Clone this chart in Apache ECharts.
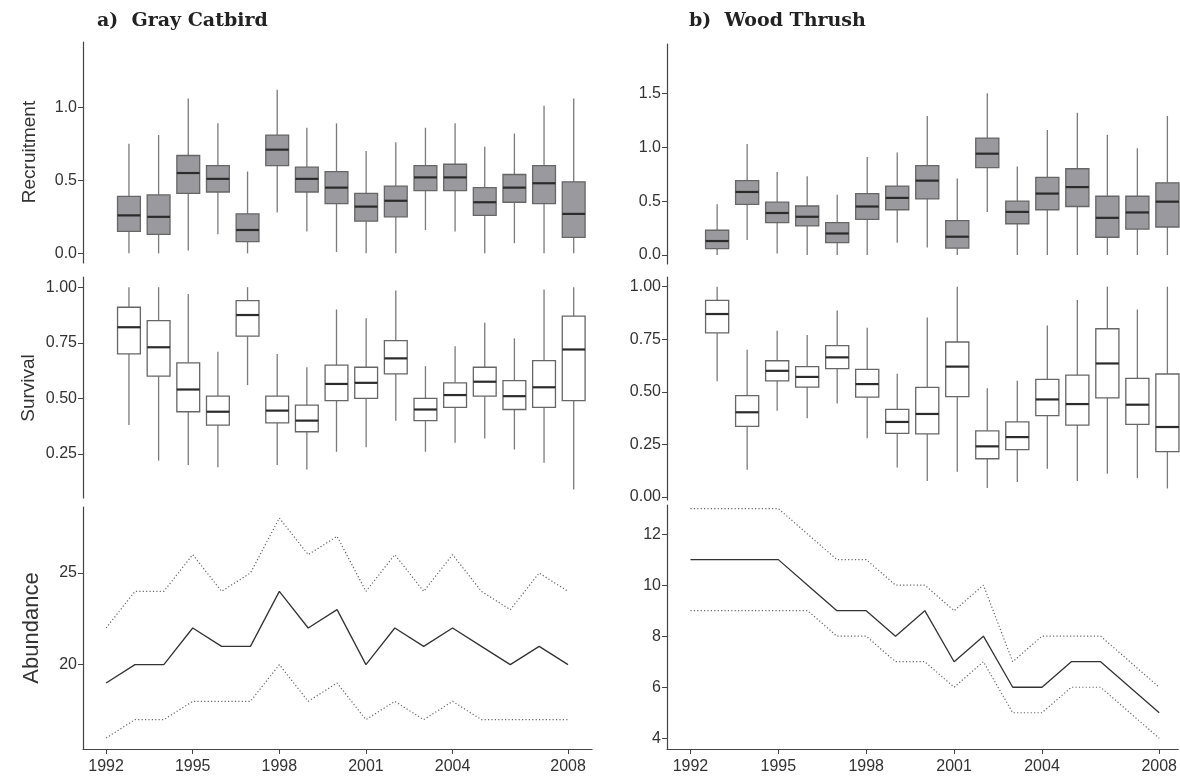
<!DOCTYPE html>
<html>
<head>
<meta charset="utf-8">
<title>Gray Catbird / Wood Thrush</title>
<style>
  body { margin: 0; background: #fff; }
  #main { width: 1180px; height: 776px; }
</style>
</head>
<body>
<div id="main"></div>
<script src="https://cdn.jsdelivr.net/npm/echarts@6/dist/echarts.min.js"></script>
<script>
// years
var boxYears = [1993, 1994, 1995, 1996, 1997, 1998, 1999, 2000, 2001, 2002, 2003, 2004, 2005, 2006, 2007, 2008];
var abYears = [1992, 1993, 1994, 1995, 1996, 1997, 1998, 1999, 2000, 2001, 2002, 2003, 2004, 2005, 2006, 2007, 2008];
var yearTicks = [1992, 1995, 1998, 2001, 2004, 2008];

// box stats per year: [min, Q1, median, Q3, max]
var gcRecruit = [
  [0.00, 0.15, 0.26, 0.39, 0.75], [0.00, 0.13, 0.25, 0.40, 0.81], [0.02, 0.41, 0.55, 0.67, 1.06],
  [0.13, 0.42, 0.51, 0.60, 0.89], [0.00, 0.08, 0.16, 0.27, 0.56], [0.28, 0.60, 0.71, 0.81, 1.12],
  [0.15, 0.42, 0.51, 0.59, 0.86], [0.01, 0.34, 0.45, 0.56, 0.89], [0.00, 0.22, 0.32, 0.41, 0.70],
  [0.00, 0.25, 0.36, 0.46, 0.76], [0.16, 0.43, 0.52, 0.60, 0.86], [0.15, 0.43, 0.52, 0.61, 0.89],
  [0.00, 0.26, 0.35, 0.45, 0.73], [0.07, 0.35, 0.45, 0.54, 0.82], [0.00, 0.34, 0.48, 0.60, 1.01],
  [0.00, 0.11, 0.27, 0.49, 1.06]
];
var gcSurvival = [
  [0.38, 0.70, 0.82, 0.91, 1.00], [0.22, 0.60, 0.73, 0.85, 1.00], [0.20, 0.44, 0.54, 0.66, 0.97],
  [0.19, 0.38, 0.44, 0.51, 0.71], [0.56, 0.78, 0.875, 0.94, 1.00], [0.20, 0.39, 0.445, 0.51, 0.70],
  [0.18, 0.35, 0.40, 0.47, 0.64], [0.26, 0.49, 0.565, 0.65, 0.90], [0.28, 0.50, 0.57, 0.64, 0.86],
  [0.40, 0.61, 0.68, 0.76, 0.985], [0.26, 0.40, 0.45, 0.50, 0.645], [0.30, 0.46, 0.515, 0.57, 0.735],
  [0.32, 0.51, 0.575, 0.64, 0.84], [0.27, 0.45, 0.51, 0.58, 0.77], [0.21, 0.46, 0.55, 0.67, 0.99],
  [0.09, 0.49, 0.72, 0.87, 1.00]
];
var wtRecruit = [
  [0.00, 0.06, 0.13, 0.23, 0.47], [0.14, 0.47, 0.585, 0.69, 1.03], [0.015, 0.30, 0.39, 0.49, 0.77],
  [0.00, 0.27, 0.355, 0.455, 0.73], [0.00, 0.115, 0.20, 0.30, 0.56], [0.00, 0.33, 0.45, 0.57, 0.91],
  [0.115, 0.42, 0.53, 0.64, 0.95], [0.07, 0.52, 0.69, 0.83, 1.29], [0.00, 0.065, 0.17, 0.32, 0.71],
  [0.40, 0.81, 0.94, 1.085, 1.50], [0.00, 0.29, 0.40, 0.50, 0.82], [0.00, 0.42, 0.57, 0.72, 1.16],
  [0.00, 0.45, 0.63, 0.80, 1.32], [0.00, 0.165, 0.345, 0.545, 1.115], [0.00, 0.24, 0.395, 0.545, 0.99],
  [0.00, 0.26, 0.495, 0.67, 1.29]
];
var wtSurvival = [
  [0.55, 0.78, 0.87, 0.935, 1.00], [0.13, 0.336, 0.403, 0.482, 0.70], [0.41, 0.552, 0.60, 0.648, 0.79],
  [0.375, 0.523, 0.571, 0.62, 0.77], [0.445, 0.61, 0.664, 0.72, 0.887], [0.28, 0.475, 0.537, 0.607, 0.805],
  [0.14, 0.303, 0.357, 0.417, 0.586], [0.076, 0.30, 0.395, 0.521, 0.853], [0.12, 0.477, 0.62, 0.737, 1.00],
  [0.043, 0.182, 0.241, 0.315, 0.517], [0.071, 0.225, 0.285, 0.357, 0.553], [0.135, 0.387, 0.464, 0.559, 0.816],
  [0.076, 0.342, 0.442, 0.58, 0.937], [0.111, 0.471, 0.635, 0.80, 1.00], [0.09, 0.345, 0.439, 0.564, 0.891],
  [0.041, 0.216, 0.333, 0.585, 1.00]
];

// abundance: estimate and dotted bounds
var gcAbund = [19, 20, 20, 22, 21, 21, 24, 22, 23, 20, 22, 21, 22, 21, 20, 21, 20];
var gcUpper = [22, 24, 24, 26, 24, 25, 28, 26, 27, 24, 26, 24, 26, 24, 23, 25, 24];
var gcLower = [16, 17, 17, 18, 18, 18, 20, 18, 19, 17, 18, 17, 18, 17, 17, 17, 17];
var wtAbund = [11, 11, 11, 11, 10, 9, 9, 8, 9, 7, 8, 6, 6, 7, 7, 6, 5];
var wtUpper = [13, 13, 13, 13, 12, 11, 11, 10, 10, 9, 10, 7, 8, 8, 8, 7, 6];
var wtLower = [9, 9, 9, 9, 9, 8, 8, 7, 7, 6, 7, 5, 5, 6, 6, 5, 4];

var FONT = '"Liberation Sans", Arial, sans-serif';

function boxData(stats) {
  return stats.map(function (s, i) { return [boxYears[i]].concat(s); });
}
function lineData(vals) {
  return vals.map(function (v, i) { return [abYears[i], v]; });
}

function boxRenderer(fill) {
  return function (params, api) {
    var x = api.value(0);
    var lo = api.coord([x, api.value(1)]);
    var q1 = api.coord([x, api.value(2)]);
    var md = api.coord([x, api.value(3)]);
    var q3 = api.coord([x, api.value(4)]);
    var hi = api.coord([x, api.value(5)]);
    var half = api.size([1, 0])[0] * 0.385;
    var cx = q1[0];
    return {
      type: 'group',
      children: [
        { type: 'line', shape: { x1: cx, y1: lo[1], x2: cx, y2: q1[1] }, style: { stroke: '#7a7a7a', lineWidth: 1.3 } },
        { type: 'line', shape: { x1: cx, y1: q3[1], x2: cx, y2: hi[1] }, style: { stroke: '#7a7a7a', lineWidth: 1.3 } },
        { type: 'rect', shape: { x: cx - half, y: q3[1], width: half * 2, height: q1[1] - q3[1] },
          style: { fill: fill, stroke: '#666', lineWidth: 1.3 } },
        { type: 'line', shape: { x1: cx - half, y1: md[1], x2: cx + half, y2: md[1] }, style: { stroke: '#2b2b2b', lineWidth: 2.2 } }
      ]
    };
  };
}

function yAxisCfg(idx, min, max, ticks, digits) {
  return {
    type: 'value', gridIndex: idx, min: min, max: max,
    axisLine: { show: true, onZero: false, lineStyle: { color: '#444', width: 1.2 } },
    axisTick: { show: true, length: 5, customValues: ticks, lineStyle: { color: '#444' } },
    axisLabel: { customValues: ticks, color: '#333', fontSize: 16, fontFamily: FONT, margin: 6,
      formatter: function (v) { return digits == null ? String(v) : v.toFixed(digits); } },
    splitLine: { show: false }
  };
}
function xHidden(idx, min, max) {
  return { type: 'value', gridIndex: idx, min: min, max: max, show: false, splitLine: { show: false } };
}
function xShown(idx, min, max) {
  return {
    type: 'value', gridIndex: idx, min: min, max: max,
    axisLine: { show: true, onZero: false, lineStyle: { color: '#444', width: 1.2 } },
    axisTick: { show: true, length: 5, customValues: yearTicks, lineStyle: { color: '#444' } },
    axisLabel: { customValues: yearTicks, color: '#333', fontSize: 16, fontFamily: FONT, margin: 10,
      formatter: function (v) { return String(v); } },
    splitLine: { show: false }
  };
}

function lineSeries(idx, vals, dotted) {
  return {
    type: 'line', xAxisIndex: idx, yAxisIndex: idx, data: lineData(vals),
    symbol: 'none', silent: true,
    lineStyle: dotted ? { color: '#666', width: 1.2, type: [1.2, 2.2] } : { color: '#333', width: 1.3 }
  };
}
function boxSeries(idx, stats, fill) {
  return {
    type: 'custom', xAxisIndex: idx, yAxisIndex: idx, data: boxData(stats),
    renderItem: boxRenderer(fill), silent: true,
    encode: { x: 0, y: [1, 2, 3, 4, 5] }
  };
}

function sideText(text, x, y, size) {
  return { type: 'text', x: x, y: y, rotation: Math.PI / 2,
    style: { text: text, font: size + 'px ' + FONT, fill: '#333', align: 'center', verticalAlign: 'middle' } };
}
function titleText(text, x) {
  return { type: 'text', x: x, y: 21,
    style: { text: text, font: 'bold 19px "DejaVu Serif", serif', fill: '#222', verticalAlign: 'middle' } };
}

var chart = echarts.init(document.getElementById('main'));
chart.setOption({
  animation: false,
  backgroundColor: '#fff',
  grid: [
    { left: 83, top: 42, width: 507, height: 221 },
    { left: 83, top: 277, width: 507, height: 221 },
    { left: 83, top: 507, width: 509, height: 242 },
    { left: 667, top: 44, width: 513, height: 220 },
    { left: 667, top: 277, width: 513, height: 223 },
    { left: 667, top: 505, width: 513, height: 244 }
  ],
  xAxis: [
    xHidden(0, 1991.45, 2008.55),
    xHidden(1, 1991.45, 2008.55),
    xShown(2, 1991.2, 2008.83),
    xHidden(3, 1991.33, 2008.42),
    xHidden(4, 1991.33, 2008.42),
    xShown(5, 1991.2, 2008.65)
  ],
  yAxis: [
    yAxisCfg(0, -0.066, 1.447, [0, 0.5, 1.0], 1),
    yAxisCfg(1, 0.052, 1.046, [0.25, 0.5, 0.75, 1.0], 2),
    yAxisCfg(2, 15.4, 28.6, [20, 25], null),
    yAxisCfg(3, -0.083, 1.957, [0, 0.5, 1.0, 1.5], 1),
    yAxisCfg(4, -0.014, 1.046, [0, 0.25, 0.5, 0.75, 1.0], 2),
    yAxisCfg(5, 3.58, 13.14, [4, 6, 8, 10, 12], null)
  ],
  graphic: [
    titleText('a)  Gray Catbird', 97),
    titleText('b)  Wood Thrush', 689),
    sideText('Recruitment', 30, 152, 19),
    sideText('Survival', 29, 388, 19),
    sideText('Abundance', 32, 628, 22)
  ],
  series: [
    boxSeries(0, gcRecruit, '#9a9a9e'),
    boxSeries(1, gcSurvival, '#ffffff'),
    lineSeries(2, gcUpper, true),
    lineSeries(2, gcLower, true),
    lineSeries(2, gcAbund, false),
    boxSeries(3, wtRecruit, '#9a9a9e'),
    boxSeries(4, wtSurvival, '#ffffff'),
    lineSeries(5, wtUpper, true),
    lineSeries(5, wtLower, true),
    lineSeries(5, wtAbund, false)
  ]
});
</script>
</body>
</html>
